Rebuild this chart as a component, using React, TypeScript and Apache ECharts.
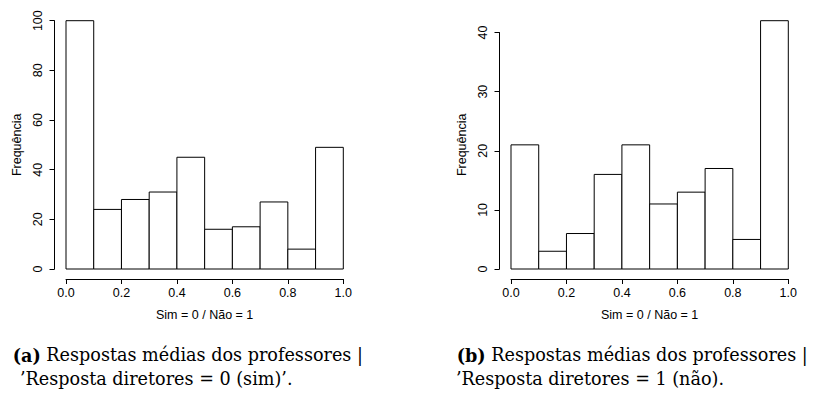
import React, { useEffect, useRef } from "react";
import * as echarts from "echarts";

// ---- data ----
const binEdges = [0.0, 0.1, 0.2, 0.3, 0.4, 0.5, 0.6, 0.7, 0.8, 0.9, 1.0];
const countsA = [100, 24, 28, 31, 45, 16, 17, 27, 8, 49];
const countsB = [21, 3, 6, 16, 21, 11, 13, 17, 5, 42];
const yAxisMaxA = 100;
const yIntervalA = 20;
const yAxisMaxB = 40;
const yIntervalB = 10;
const xInterval = 0.2;
const xTitle = "Sim = 0 / Não = 1";
const yTitle = "Frequência";
const captionA = ["(a)", " Respostas médias dos professores |", "’Resposta diretores = 0 (sim)’."];
const captionB = ["(b)", " Respostas médias dos professores |", "’Resposta diretores = 1 (não)."];

// ---- layout ----
const PLOT_TOP = 20.7;
const PLOT_BOTTOM = 269;
const PLOT_W = 277.3;
const SANS = "'Liberation Sans', Arial, Helvetica, sans-serif";
const SERIF = "'DejaVu Serif', 'Liberation Serif', serif";
const FS = 12.5;
const CAP_FS = 17.6;

type Panel = { counts: number[]; axisMax: number; interval: number; left: number };

function buildPanel(p: Panel, idx: number) {
  const barMax = Math.max(p.axisMax, ...p.counts);
  const plotH = PLOT_BOTTOM - PLOT_TOP;
  const axisH = (plotH * p.axisMax) / barMax;
  const gBars = idx * 2;
  const gAxis = idx * 2 + 1;
  const lineStyle = { color: "#000", width: 1 };
  const grids = [
    { left: p.left, top: PLOT_TOP, width: PLOT_W, height: plotH, containLabel: false },
    { left: p.left, top: PLOT_BOTTOM - axisH, width: PLOT_W, height: axisH, containLabel: false },
  ];
  const xAxes = [
    {
      type: "value",
      gridIndex: gBars,
      min: 0,
      max: 1,
      interval: xInterval,
      offset: 10,
      axisLine: { show: true, onZero: false, lineStyle },
      axisTick: { show: true, length: 5, lineStyle },
      axisLabel: {
        show: true,
        margin: 7,
        color: "#000",
        fontFamily: SANS,
        fontSize: FS,
        formatter: (v: number) => v.toFixed(1),
      },
      splitLine: { show: false },
      name: xTitle,
      nameLocation: "middle",
      nameGap: 29,
      nameTextStyle: { color: "#000", fontFamily: SANS, fontSize: FS },
    },
    { type: "value", gridIndex: gAxis, min: 0, max: 1, show: false },
  ];
  const yAxes = [
    {
      type: "value",
      gridIndex: gBars,
      min: 0,
      max: barMax,
      offset: 11.5,
      axisLine: { show: false, onZero: false },
      axisTick: { show: false },
      axisLabel: { show: false },
      splitLine: { show: false },
      name: yTitle,
      nameLocation: "middle",
      nameGap: 31,
      nameTextStyle: { color: "#000", fontFamily: SANS, fontSize: FS },
    },
    {
      type: "value",
      gridIndex: gAxis,
      min: 0,
      max: p.axisMax,
      interval: p.interval,
      offset: 11.5,
      axisLine: { show: true, onZero: false, lineStyle },
      axisTick: { show: true, length: 5, lineStyle },
      axisLabel: {
        show: true,
        rotate: 90,
        margin: 10,
        color: "#000",
        fontFamily: SANS,
        fontSize: FS,
      },
      splitLine: { show: false },
    },
  ];
  const series = {
    type: "custom",
    xAxisIndex: gBars,
    yAxisIndex: gBars,
    clip: false,
    data: p.counts.map((c, k) => [binEdges[k], binEdges[k + 1], c]),
    encode: { x: [0, 1], y: 2 },
    renderItem: (_params: any, api: any) => {
      const p0 = api.coord([api.value(0), 0]);
      const p1 = api.coord([api.value(1), api.value(2)]);
      return {
        type: "rect",
        shape: { x: p0[0], y: p1[1], width: p1[0] - p0[0], height: p0[1] - p1[1] },
        style: { fill: "#fff", stroke: "#000", lineWidth: 1 },
      };
    },
  };
  return { grids, xAxes, yAxes, series };
}

function caption(parts: string[], x1: number, x2: number) {
  const common = { fontFamily: SERIF, fontSize: CAP_FS, fill: "#000", verticalAlign: "middle" as const };
  return [
    {
      type: "text",
      x: x1,
      y: 355,
      style: {
        ...common,
        text: `{b|${parts[0]}}${parts[1]}`,
        rich: { b: { fontWeight: "bold", fontFamily: SERIF, fontSize: CAP_FS } },
      },
    },
    { type: "text", x: x2, y: 379, style: { ...common, text: parts[2] } },
  ];
}

export default function App() {
  const ref = useRef<HTMLDivElement>(null);
  useEffect(() => {
    if (!ref.current) return;
    const chart = echarts.init(ref.current, undefined, { renderer: "svg" });
    const a = buildPanel({ counts: countsA, axisMax: yAxisMaxA, interval: yIntervalA, left: 66 }, 0);
    const b = buildPanel({ counts: countsB, axisMax: yAxisMaxB, interval: yIntervalB, left: 511 }, 1);
    chart.setOption({
      animation: false,
      backgroundColor: "#fff",
      grid: [...a.grids, ...b.grids],
      xAxis: [...a.xAxes, ...b.xAxes],
      yAxis: [...a.yAxes, ...b.yAxes],
      series: [a.series, b.series],
      graphic: [...caption(captionA, 12.7, 20), ...caption(captionB, 456.7, 456)],
    } as any);
    return () => chart.dispose();
  }, []);
  return (
    <div
      ref={ref}
      style={{ position: "absolute", left: 0, top: 0, width: 816, height: 394, background: "#fff" }}
    />
  );
}
